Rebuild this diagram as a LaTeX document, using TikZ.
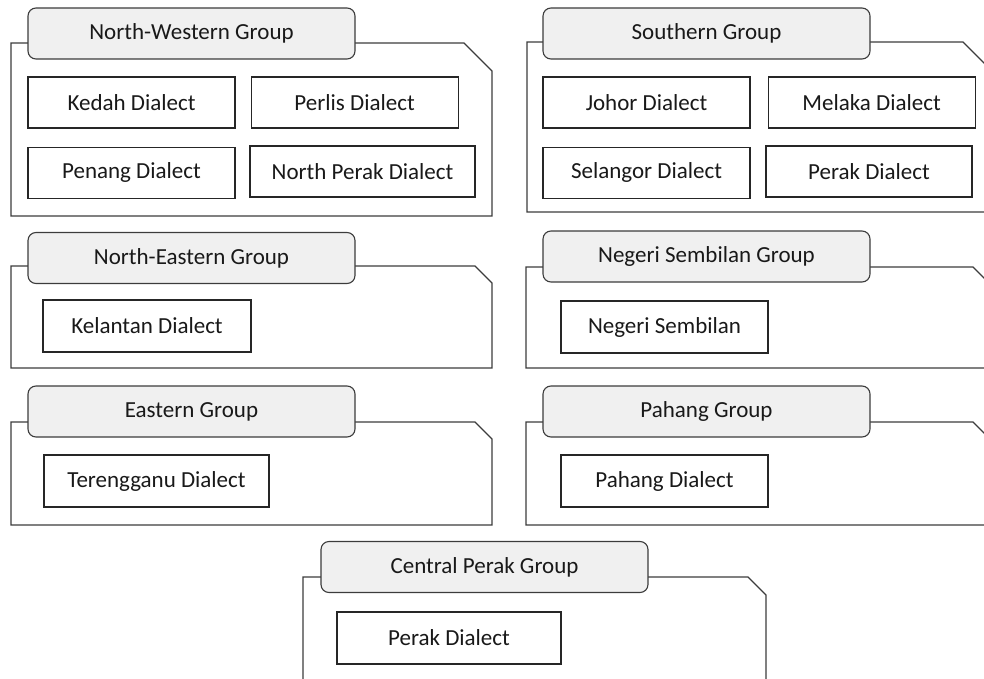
\documentclass[tikz,border=0pt]{standalone}
\usepackage{fontspec}
\setmainfont{Carlito}
\usepackage{tikz}
\usetikzlibrary{positioning}
\definecolor{tabgray}{RGB}{240,240,240}
\definecolor{framegray}{RGB}{60,60,60}
\definecolor{textdark}{RGB}{25,25,25}
\tikzset{
  grouptab/.style = {draw=framegray, fill=tabgray, rounded corners=8pt, line width=1.1pt, minimum width=327pt, minimum height=51pt, inner sep=0pt, text=textdark, font=\fontsize{23}{27}\selectfont},
  dialect/.style  = {draw=black!85, fill=white, line width=1.1pt, minimum width=207pt, minimum height=51pt, inner sep=0pt, text=textdark, font=\fontsize{23}{27}\selectfont},
  folder/.style   = {draw=framegray, line width=1.1pt},
}
% left, top, right, bottom, corner cut
\newcommand{\folderframe}[5]{%
  \draw[folder] (#1,#2) -- (#1,#4) -- (#3,#4) -- (#3,#2+#5) -- (#3-#5,#2) -- cycle;}

\begin{document}
\begin{tikzpicture}[x=1pt, y=-1pt]
  \useasboundingbox (0,0) rectangle (984,679);
  \clip (0,0) rectangle (984,679);

  % North-Western group
  \folderframe{11}{43}{492}{216}{28}
  \node[grouptab] (nwtab) at (191.5,33.5) {North-Western Group};
  \node[dialect] (kedah) at (131.5,102.5) {Kedah Dialect};
  \node[dialect, right=15pt of kedah] (perlis) {Perlis Dialect};
  \node[dialect, below=18pt of kedah] (penang) {Penang Dialect};
  \node[dialect, minimum width=225pt] (nperak) at (362.5,171.5) {North Perak Dialect};

  % Southern group
  \folderframe{527}{42}{991}{212}{28}
  \node[grouptab] (stab) at (706.5,33.5) {Southern Group};
  \node[dialect] (johor) at (646.5,102.5) {Johor Dialect};
  \node[dialect, right=17pt of johor] (melaka) {Melaka Dialect};
  \node[dialect, below=18pt of johor] (selangor) {Selangor Dialect};
  \node[dialect, minimum width=206pt] (sperak) at (869,171.5) {Perak Dialect};

  % North-Eastern group
  \folderframe{11}{266}{492}{368}{17}
  \node[grouptab] (netab) at (191.5,258) {North-Eastern Group};
  \node[dialect, minimum width=208pt, minimum height=52pt] (kelantan) at (147,326) {Kelantan Dialect};

  % Negeri Sembilan group
  \folderframe{526}{267}{990}{368}{17}
  \node[grouptab] (nstab) at (706.5,256.5) {Negeri Sembilan Group};
  \node[dialect, minimum height=52pt] (negeri) at (664.5,327) {Negeri Sembilan};

  % Eastern group
  \folderframe{11}{422}{492}{525}{17}
  \node[grouptab] (etab) at (191.5,411.5) {Eastern Group};
  \node[dialect, minimum width=225pt, minimum height=52pt] (terengganu) at (156.5,481) {Terengganu Dialect};

  % Pahang group
  \folderframe{526}{422}{990}{525}{17}
  \node[grouptab] (ptab) at (706.5,411.5) {Pahang Group};
  \node[dialect, minimum height=52pt] (pahang) at (664.5,481) {Pahang Dialect};

  % Central Perak group
  \folderframe{303}{577}{766}{710}{18}
  \node[grouptab] (cptab) at (484.5,567) {Central Perak Group};
  \node[dialect, minimum width=224pt, minimum height=52pt] (cperak) at (449,638) {Perak Dialect};
\end{tikzpicture}
\end{document}
